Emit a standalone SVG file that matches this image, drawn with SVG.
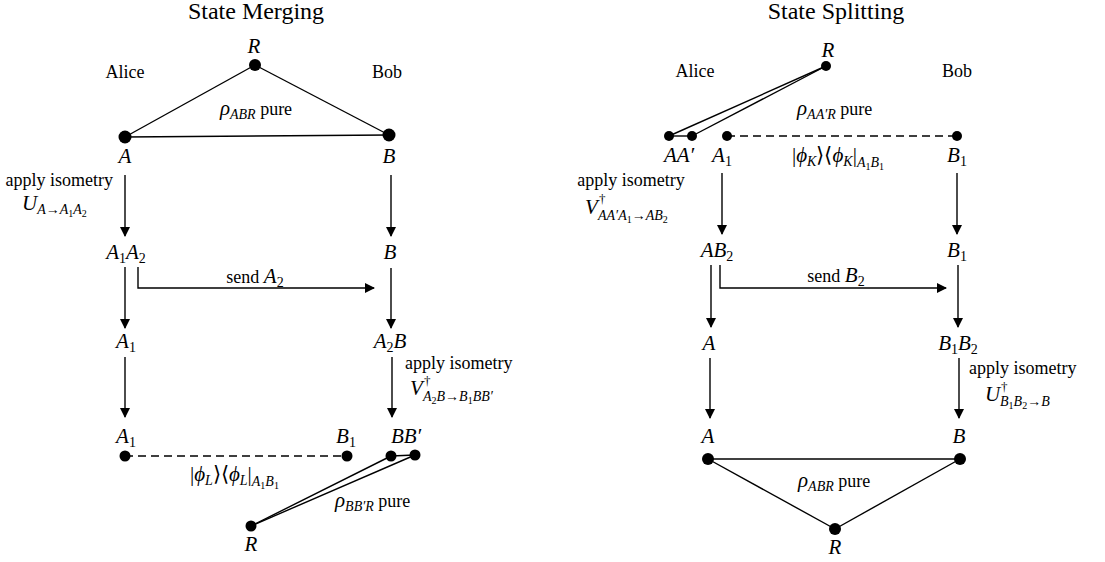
<svg xmlns="http://www.w3.org/2000/svg" width="1105" height="562" viewBox="0 0 1105 562">
<style>
.txt{font-family:'Liberation Serif',serif;font-size:18px;fill:#000}
.ttl{font-family:'Liberation Serif',serif;font-size:24px;fill:#000}
.mth{font-family:'Liberation Serif',serif;font-size:21px;font-style:italic;fill:#000}
.smth{font-family:'Liberation Serif',serif;font-size:14px;font-style:italic;fill:#000}
.dg{font-family:'Liberation Serif',serif;font-size:13px;fill:#000}
.sb{font-size:14px}
.sbs{font-size:10px;font-style:normal}
.up{font-style:normal}
.pu{font-size:18px;font-style:normal}
.ln{stroke:#000;stroke-width:1.4;fill:none}
.dash{stroke-dasharray:8 5}
.arr{marker-end:url(#ah)}
.dot{fill:#000}
</style>
<defs>
<marker id="ah" markerUnits="userSpaceOnUse" markerWidth="10" markerHeight="10" refX="9" refY="5" orient="auto">
<path d="M0,0 L10,5 L0,10 z" fill="#000"/>
</marker>
</defs>
<rect width="1105" height="562" fill="#fff"/>
<!-- Titles -->
<g id="title-merging"><text class="ttl" x="256" y="19" text-anchor="middle">State Merging</text></g>
<g id="title-splitting"><text class="ttl" x="836" y="19" text-anchor="middle">State Splitting</text></g>

<!-- Connectors -->
<g id="connectors">
<line class="ln" x1="255" y1="65" x2="125" y2="137"/>
<line class="ln" x1="255" y1="65" x2="389" y2="135"/>
<line class="ln" x1="125" y1="137" x2="389" y2="135"/>
<path class="ln arr" d="M125,175 V236"/>
<path class="ln arr" d="M391,175 V236"/>
<path class="ln arr" d="M125,267 V328"/>
<path class="ln arr" d="M138,267 V288 H374"/>
<path class="ln arr" d="M391,268 V328"/>
<path class="ln arr" d="M125,357 V417"/>
<path class="ln arr" d="M392,357 V417"/>
<line class="ln dash" x1="125" y1="456" x2="347" y2="456"/>
<line class="ln" x1="251" y1="526" x2="391" y2="456"/>
<line class="ln" x1="251" y1="526" x2="415" y2="455"/>
<line class="ln" x1="391" y1="456" x2="415" y2="455"/>
<line class="ln" x1="826" y1="66" x2="669" y2="136"/>
<line class="ln" x1="826" y1="66" x2="692" y2="136"/>
<line class="ln" x1="669" y1="136" x2="692" y2="136"/>
<line class="ln dash" x1="727" y1="136" x2="957" y2="136"/>
<path class="ln arr" d="M722,173 V234"/>
<path class="ln arr" d="M957,173 V234"/>
<path class="ln arr" d="M711,265 V327"/>
<path class="ln arr" d="M720,265 V288 H946"/>
<path class="ln arr" d="M958,265 V327"/>
<path class="ln arr" d="M710,358 V418"/>
<path class="ln arr" d="M959,358 V418"/>
<line class="ln" x1="708" y1="459" x2="960" y2="459"/>
<line class="ln" x1="708" y1="459" x2="835" y2="529"/>
<line class="ln" x1="960" y1="459" x2="835" y2="529"/>
</g>

<!-- ===== State Merging nodes ===== -->
<g id="m-R-top"><circle class="dot" cx="255" cy="65" r="6"/><text class="mth" x="254" y="53" text-anchor="middle">R</text></g>
<g id="m-alice"><text class="txt" x="125" y="78" text-anchor="middle">Alice</text></g>
<g id="m-bob"><text class="txt" x="387" y="78" text-anchor="middle">Bob</text></g>
<g id="m-rho-ABR"><text class="mth" x="256" y="115" text-anchor="middle">ρ<tspan class="sb" dy="4">ABR</tspan><tspan class="pu" dy="-4"> pure</tspan></text></g>
<g id="m-A"><circle class="dot" cx="125" cy="137" r="6.5"/><text class="mth" x="125" y="163" text-anchor="middle">A</text></g>
<g id="m-B"><circle class="dot" cx="389" cy="135" r="6.5"/><text class="mth" x="389" y="163" text-anchor="middle">B</text></g>
<g id="m-iso-U">
<text class="txt" x="113" y="186" text-anchor="end">apply isometry</text>
<text class="mth" x="22" y="210">U<tspan class="sb" dy="4">A→A</tspan><tspan class="sbs" dy="3">1</tspan><tspan class="sb" dy="-3">A</tspan><tspan class="sbs" dy="3">2</tspan></text>
</g>
<g id="m-A1A2"><text class="mth" x="126" y="259" text-anchor="middle">A<tspan class="sb up" dy="4">1</tspan><tspan dy="-4">A</tspan><tspan class="sb up" dy="4">2</tspan></text></g>
<g id="m-B2"><text class="mth" x="390" y="259" text-anchor="middle">B</text></g>
<g id="m-send"><text class="txt" x="255" y="283" text-anchor="middle">send <tspan font-style="italic" font-size="21">A</tspan><tspan class="sb" dy="4">2</tspan></text></g>
<g id="m-A1"><text class="mth" x="126" y="348" text-anchor="middle">A<tspan class="sb up" dy="4">1</tspan></text></g>
<g id="m-A2B"><text class="mth" x="390" y="348" text-anchor="middle">A<tspan class="sb up" dy="4">2</tspan><tspan dy="-4">B</tspan></text></g>
<g id="m-iso-V">
<text class="txt" x="405" y="369">apply isometry</text>
<text class="mth" x="410" y="395">V</text>
<text class="dg" x="424" y="385">†</text>
<text class="smth" x="423" y="401">A<tspan class="sbs" dy="3">2</tspan><tspan dy="-3">B→B</tspan><tspan class="sbs" dy="3">1</tspan><tspan dy="-3">BB′</tspan></text>
</g>
<g id="m-A1-bot"><circle class="dot" cx="125" cy="456" r="5.5"/><text class="mth" x="126" y="443" text-anchor="middle">A<tspan class="sb up" dy="4">1</tspan></text></g>
<g id="m-B1-bot"><circle class="dot" cx="347" cy="456" r="5.5"/><text class="mth" x="346" y="443" text-anchor="middle">B<tspan class="sb up" dy="4">1</tspan></text></g>
<g id="m-BBp"><circle class="dot" cx="391" cy="456" r="5.5"/><circle class="dot" cx="415" cy="455" r="5.5"/><text class="mth" x="406" y="443" text-anchor="middle">BB′</text></g>
<g id="m-phiL"><text class="mth" x="190" y="481"><tspan class="up">|</tspan>ϕ<tspan class="sb" dy="4">L</tspan><tspan class="up" dy="-4">⟩⟨</tspan>ϕ<tspan class="sb" dy="4">L</tspan><tspan class="up" dy="-4">|</tspan><tspan class="sb" dy="5">A</tspan><tspan class="sbs" dy="3">1</tspan><tspan class="sb" dy="-3">B</tspan><tspan class="sbs" dy="3">1</tspan></text></g>
<g id="m-rho-BBpR"><text class="mth" x="335" y="507">ρ<tspan class="sb" dy="4">BB′R</tspan><tspan class="pu" dy="-4"> pure</tspan></text></g>
<g id="m-R-bot"><circle class="dot" cx="251" cy="526" r="5.5"/><text class="mth" x="251" y="551" text-anchor="middle">R</text></g>

<!-- ===== State Splitting nodes ===== -->
<g id="s-R-top"><circle class="dot" cx="826" cy="66" r="5"/><text class="mth" x="828" y="57" text-anchor="middle">R</text></g>
<g id="s-alice"><text class="txt" x="695" y="77" text-anchor="middle">Alice</text></g>
<g id="s-bob"><text class="txt" x="957" y="77" text-anchor="middle">Bob</text></g>
<g id="s-rho-AApR"><text class="mth" x="797" y="115">ρ<tspan class="sb" dy="4">AA′R</tspan><tspan class="pu" dy="-4"> pure</tspan></text></g>
<g id="s-AAp"><circle class="dot" cx="669" cy="136" r="5"/><circle class="dot" cx="692" cy="136" r="5"/><text class="mth" x="679" y="162" text-anchor="middle">AA′</text></g>
<g id="s-A1"><circle class="dot" cx="727" cy="136" r="5"/><text class="mth" x="722" y="162" text-anchor="middle">A<tspan class="sb up" dy="4">1</tspan></text></g>
<g id="s-B1"><circle class="dot" cx="957" cy="136" r="5"/><text class="mth" x="957" y="162" text-anchor="middle">B<tspan class="sb up" dy="4">1</tspan></text></g>
<g id="s-phiK"><text class="mth" x="792" y="162"><tspan class="up">|</tspan>ϕ<tspan class="sb" dy="4">K</tspan><tspan class="up" dy="-4">⟩⟨</tspan>ϕ<tspan class="sb" dy="4">K</tspan><tspan class="up" dy="-4">|</tspan><tspan class="sb" dy="5">A</tspan><tspan class="sbs" dy="3">1</tspan><tspan class="sb" dy="-3">B</tspan><tspan class="sbs" dy="3">1</tspan></text></g>
<g id="s-iso-V">
<text class="txt" x="631" y="186" text-anchor="middle">apply isometry</text>
<text class="mth" x="585" y="214">V</text>
<text class="dg" x="599" y="203">†</text>
<text class="smth" x="598" y="220">AA′A<tspan class="sbs" dy="3">1</tspan><tspan dy="-3">→AB</tspan><tspan class="sbs" dy="3">2</tspan></text>
</g>
<g id="s-AB2"><text class="mth" x="717" y="257" text-anchor="middle">AB<tspan class="sb up" dy="4">2</tspan></text></g>
<g id="s-B1-mid"><text class="mth" x="957" y="257" text-anchor="middle">B<tspan class="sb up" dy="4">1</tspan></text></g>
<g id="s-send"><text class="txt" x="836" y="282" text-anchor="middle">send <tspan font-style="italic" font-size="21">B</tspan><tspan class="sb" dy="4">2</tspan></text></g>
<g id="s-A-mid"><text class="mth" x="709" y="350" text-anchor="middle">A</text></g>
<g id="s-B1B2"><text class="mth" x="958" y="350" text-anchor="middle">B<tspan class="sb up" dy="4">1</tspan><tspan dy="-4">B</tspan><tspan class="sb up" dy="4">2</tspan></text></g>
<g id="s-iso-U">
<text class="txt" x="969" y="374">apply isometry</text>
<text class="mth" x="985" y="401">U</text>
<text class="dg" x="1001" y="391">†</text>
<text class="smth" x="1000" y="406">B<tspan class="sbs" dy="3">1</tspan><tspan dy="-3">B</tspan><tspan class="sbs" dy="3">2</tspan><tspan dy="-3">→B</tspan></text>
</g>
<g id="s-A-bot"><circle class="dot" cx="708" cy="459" r="6"/><text class="mth" x="708" y="443" text-anchor="middle">A</text></g>
<g id="s-B-bot"><circle class="dot" cx="960" cy="459" r="6"/><text class="mth" x="959" y="443" text-anchor="middle">B</text></g>
<g id="s-rho-ABR"><text class="mth" x="798" y="487">ρ<tspan class="sb" dy="4">ABR</tspan><tspan class="pu" dy="-4"> pure</tspan></text></g>
<g id="s-R-bot"><circle class="dot" cx="835" cy="529" r="6"/><text class="mth" x="835" y="554" text-anchor="middle">R</text></g>
</svg>
